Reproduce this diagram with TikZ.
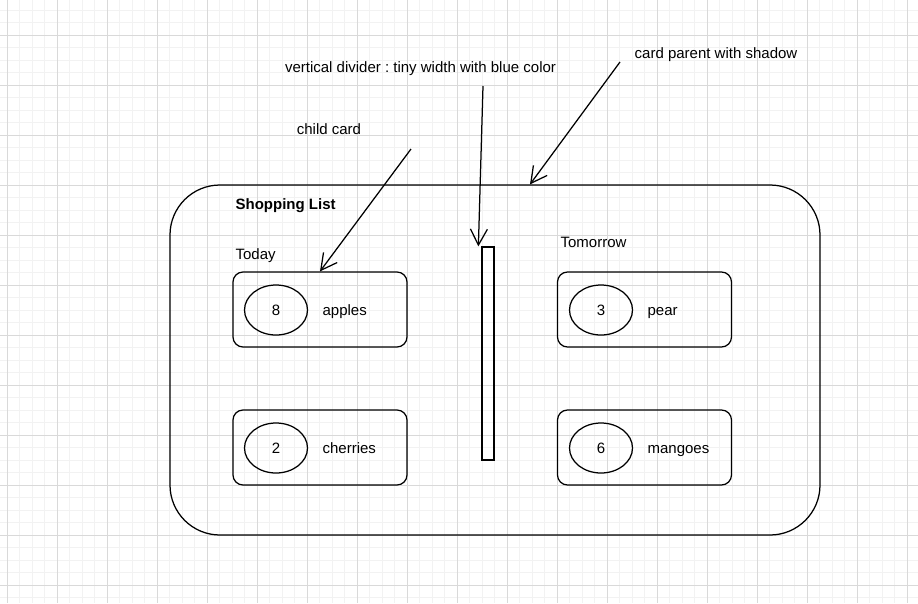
\documentclass[tikz,border=0pt]{standalone}
\usepackage{fontspec}
\setmainfont{Liberation Sans}
\frenchspacing
\usetikzlibrary{positioning,arrows.meta,calc,shapes.geometric}

\begin{document}
\begin{tikzpicture}[x=1pt,y=-1pt,
                    every node/.style={font=\fontsize{15}{18}\selectfont},
                    line width=1.25pt,
                    minorgrid/.style={draw=black!5,line width=1pt},
                    majorgrid/.style={draw=black!15,line width=1pt},
                    parentcard/.style={draw,rounded corners=50pt,
                                minimum width=650pt,minimum height=350pt},
                    childcard/.style={draw,rounded corners=10pt,
                                minimum width=174pt,minimum height=75pt},
                    count/.style={draw,ellipse,minimum width=63pt,minimum height=50pt,inner sep=0pt},
                    item/.style={anchor=base west,inner sep=0pt},
                    note/.style={anchor=base,inner sep=0pt},
                    pointer/.style={-{Straight Barb[length=16pt,width=17pt]}}]
  \useasboundingbox (0,0) rectangle (918,603);
  \clip (0,0) rectangle (918,603);
  \fill[white] (0,0) rectangle (918,603);

  % background grid
  \foreach \i in {0,...,74} \draw[minorgrid] ({-5.5+12.5*\i},0) -- ++(0,603);
  \foreach \i in {0,...,48} \draw[minorgrid] (0,{-2.5+12.5*\i}) -- ++(918,0);
  \foreach \i in {0,...,18} \draw[majorgrid] ({7+50*\i},0) -- ++(0,603);
  \foreach \i in {0,...,11} \draw[majorgrid] (0,{35+50*\i}) -- ++(918,0);

  % parent card
  \node[parentcard] (parent) at (495,360) {};
  \node[item,font=\fontsize{15}{18}\selectfont\bfseries] (title) at (235,209) {Shopping List};
  \node[item] (today) at (235,259) {Today};
  \node[item] (tomorrow) at (560,247) {Tomorrow};

  % child cards
  \node[childcard] (apples)   at (320,309.5) {};
  \node[childcard] (cherries) at (320,447.5) {};
  \node[childcard] (pear)     at (644.5,309.5) {};
  \node[childcard] (mangoes)  at (644.5,447.5) {};

  \node[count] (n1) at (276,310) {8};
  \node[count] (n2) at (276,448) {2};
  \node[count] (n3) at (601,310) {3};
  \node[count] (n4) at (601,448) {6};

  \node[item] (l1) at (322,315) {apples};
  \node[item] (l2) at (322,453) {cherries};
  \node[item] (l3) at (647,315) {pear};
  \node[item] (l4) at (647,453) {mangoes};

  % divider
  \node[draw,minimum width=12pt,minimum height=213pt,inner sep=0pt] (divider) at (488,353.5) {};

  % notes
  \node[note] (childnote)   at (329,134) {child card};
  \node[note] (dividernote) at (420.5,72) {vertical divider : tiny width with blue color};
  \node[note] (parentnote)  at (716,58) {card parent with shadow};

  \coordinate (childtail)   at (411,149);
  \coordinate (dividertail) at (483,86);
  \coordinate (parenttail)  at (620,62);

  \draw[pointer] (childtail) -- (apples.north);
  \draw[pointer] (dividertail) -- ([xshift=-3pt]divider.north west);
  \draw[pointer] (parenttail) -- ([xshift=35pt]parent.north);
\end{tikzpicture}
\end{document}
